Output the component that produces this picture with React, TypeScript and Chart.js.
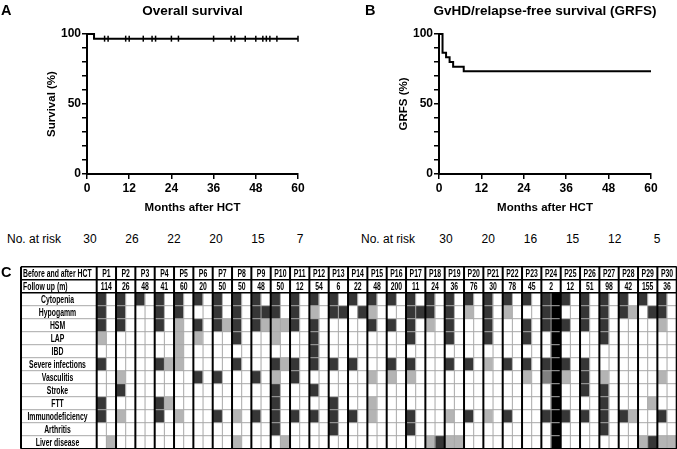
import React, { useEffect, useRef } from 'react';
import { Chart, registerables } from 'chart.js';

Chart.register(...registerables);

const SANS = '"Liberation Sans", Arial, sans-serif';

// ---------- Panels A and B (Kaplan-Meier) ----------
const monthTickStep = 12;
const percentLabels = [0, 50, 100];

const osTitle = 'Overall survival';
const osYTitle = 'Survival (%)';
const osMonths = [0, 2, 60];
const osPercent = [100, 96.67, 96.67];
const osCensored = [5, 6, 11, 12, 16, 18.5, 19.5, 24, 26, 36, 41, 42, 45, 48, 50, 51, 52, 54, 60];

const grfsTitle = 'GvHD/relapse-free survival (GRFS)';
const grfsYTitle = 'GRFS (%)';
const grfsMonths = [0, 1, 2, 3, 4, 7, 60];
const grfsPercent = [100, 86.67, 83.33, 80, 76.67, 73.33, 73.33];

const xTitle = 'Months after HCT';
const riskLabel = 'No. at risk';
const osAtRisk = [30, 26, 22, 20, 15, 7];
const grfsAtRisk = [30, 20, 16, 15, 12, 5];

// ---------- Panel C (heat map) ----------
const headerRows = ['Before and after HCT', 'Follow up (m)'];
const conditions = [
  'Cytopenia', 'Hypogamm', 'HSM', 'LAP', 'IBD', 'Severe infections',
  'Vasculitis', 'Stroke', 'FTT', 'Immunodeficiency', 'Arthritis', 'Liver disease',
];
const patients = [
  'P1', 'P2', 'P3', 'P4', 'P5', 'P6', 'P7', 'P8', 'P9', 'P10',
  'P11', 'P12', 'P13', 'P14', 'P15', 'P16', 'P17', 'P18', 'P19', 'P20',
  'P21', 'P22', 'P23', 'P24', 'P25', 'P26', 'P27', 'P28', 'P29', 'P30',
];
const followUp = [114, 26, 48, 41, 60, 20, 50, 50, 48, 50, 12, 54, 6, 22, 48, 200, 11, 24, 36, 76, 30, 78, 45, 2, 12, 51, 98, 42, 155, 36];
// status per condition (order of `conditions`): 0 none, 1 light, 2 dark, 3 black (death), 4 medium
const beforeHCT = [
  '222102002200', '222000120100', '200000000000', '222002002200', '221111000100',
  '202100200000', '222000200200', '222202000101', '222000200200', '221102122220',
  '222002200200', '212222020200', '220002002220', '200002000200', '212000101100',
  '202002100000', '222202100220', '221000000001', '222202000101', '210002000200',
  '222201000100', '210002000200', '202202100000', '222002400200', '202002100200',
  '222002220200', '222200122220', '220000000200', '200000000001', '221000100201',
];
const afterHCT = [
  '000000000001', '000000000000', '000000000000', '000001001000', '000000000000',
  '000000000000', '001000000000', '000000000000', '021000000000', '001001000001',
  '000000000000', '000000000000', '020000000000', '020000000000', '000000000000',
  '000000000000', '020000000000', '000000000002', '000000000001', '000000000000',
  '000000000000', '000000000000', '000000000000', '333333333333', '000000000000',
  '000000000000', '000000000000', '010000000100', '020000001002', '000000000001',
];
const statusColors: Record<string, string> = {
  '0': '#ffffff', '1': '#b4b4b4', '2': '#363636', '3': '#000000', '4': '#808080',
};

function stepValue(months: number[], values: number[], m: number) {
  let v = values[0];
  for (let i = 0; i < months.length; i++) if (months[i] <= m) v = values[i];
  return v;
}

function panelTitle(text: string) {
  return {
    id: 'panelTitle',
    afterDraw(chart: any) {
      const { ctx, chartArea } = chart;
      ctx.save();
      ctx.font = `bold 13.5px ${SANS}`;
      ctx.fillStyle = '#000';
      ctx.textAlign = 'center';
      ctx.textBaseline = 'middle';
      ctx.fillText(text, (chartArea.left + chartArea.right) / 2, 11);
      ctx.restore();
    },
  };
}

function kmConfig(o: {
  title: string; yTitle: string; months: number[]; percent: number[]; censored?: number[];
  yAxisWidth: number; yTitleCenter: number; rightPad: number;
}): any {
  const datasets: any[] = [
    {
      type: 'line',
      data: o.months.map((m, i) => ({ x: m, y: o.percent[i] })),
      stepped: true,
      borderColor: '#000',
      borderWidth: 2,
      pointRadius: 0,
      fill: false,
      clip: false,
    },
  ];
  if (o.censored) {
    datasets.push({
      type: 'scatter',
      data: o.censored.map((m) => ({ x: m, y: stepValue(o.months, o.percent, m) })),
      pointStyle: 'line',
      rotation: 90,
      pointRadius: 3,
      borderColor: '#000',
      borderWidth: 1.5,
      clip: false,
    });
  }
  const tickFont = { family: SANS, weight: 'bold', size: 12 };
  const titleFont = { family: SANS, weight: 'bold', size: 11.5, lineHeight: 1.2 };
  return {
    type: 'line',
    data: { datasets },
    options: {
      animation: false,
      responsive: false,
      maintainAspectRatio: false,
      layout: { padding: { left: 0, top: 34, right: o.rightPad, bottom: 0 } },
      plugins: { legend: { display: false }, tooltip: { enabled: false }, title: { display: false } },
      scales: {
        x: {
          type: 'linear', min: 0, max: 60,
          ticks: { stepSize: monthTickStep, font: tickFont, color: '#000', padding: 2, maxRotation: 0, autoSkip: false },
          grid: { display: true, drawOnChartArea: false, drawTicks: true, tickLength: 5, color: '#000', lineWidth: 1.5 },
          border: { display: true, color: '#000', width: 2 },
          title: { display: true, text: xTitle, font: titleFont, color: '#000', padding: 0 },
          afterFit: (s: any) => { s.height = 41; },
        },
        y: {
          type: 'linear', min: 0, max: 100,
          ticks: {
            stepSize: 10, autoSkip: false, font: tickFont, color: '#000', padding: 1,
            callback: (v: number) => (percentLabels.includes(v) ? String(v) : ''),
          },
          grid: { display: true, drawOnChartArea: false, drawTicks: true, tickLength: 5, color: '#000', lineWidth: 1.5 },
          border: { display: true, color: '#000', width: 2 },
          title: {
            display: true, text: o.yTitle, font: titleFont, color: '#000',
            padding: { top: o.yTitleCenter - 6.9, bottom: 0 },
          },
          afterFit: (s: any) => { s.width = o.yAxisWidth; },
        },
      },
    },
    plugins: [panelTitle(o.title)],
  };
}

function heatConfig(): any {
  const rowNames = [...headerRows, ...conditions];
  const labels: string[] = [];
  patients.forEach((p) => { labels.push(`${p} before`); labels.push(`${p} after`); });
  const cellColor = (r: number, c: number) => {
    if (r < headerRows.length) return '#ffffff';
    const p = Math.floor(c / 2);
    const s = c % 2 === 0 ? beforeHCT[p] : afterHCT[p];
    return statusColors[s[r - headerRows.length]];
  };
  const datasets = rowNames.map((name, r) => ({
    label: name,
    data: labels.map(() => 1),
    backgroundColor: (ctx: any) => cellColor(r, ctx.dataIndex),
    borderWidth: 0,
    barPercentage: 1,
    categoryPercentage: 1,
  }));
  const axisWidth = 75.7;
  const squeeze = 0.66;
  const tableFont = `bold 10.4px ${SANS}`;

  // draw condensed text (the reference table uses a narrow face)
  const narrowText = (ctx: any, text: string, x: number, y: number, align: 'left' | 'center') => {
    ctx.save();
    ctx.translate(x, y);
    ctx.scale(squeeze, 1);
    ctx.textAlign = align;
    ctx.fillText(text, 0, 0);
    ctx.restore();
  };

  const tablePlugin = {
    id: 'tableLines',
    afterDatasetsDraw(chart: any) {
      const { ctx, chartArea: ca, scales } = chart;
      const x = scales.x;
      const y = scales.y;
      const colW = x.getPixelForValue(1) - x.getPixelForValue(0);
      const colX = (c: number) => x.getPixelForValue(0) - colW / 2 + c * colW;
      const rowY = (r: number) => y.getPixelForValue(r);
      const left = y.left;
      const nRows = rowNames.length;
      const nCols = labels.length;
      ctx.save();
      // thin grey lines
      ctx.strokeStyle = '#a8a8a8';
      ctx.lineWidth = 1;
      for (let r = headerRows.length + 1; r < nRows; r++) {
        ctx.beginPath(); ctx.moveTo(left, rowY(r)); ctx.lineTo(ca.right, rowY(r)); ctx.stroke();
      }
      for (let c = 1; c < nCols; c += 2) {
        ctx.beginPath(); ctx.moveTo(colX(c), rowY(headerRows.length)); ctx.lineTo(colX(c), rowY(nRows)); ctx.stroke();
      }
      // black lines
      ctx.strokeStyle = '#000';
      ctx.lineWidth = 1.5;
      for (let r = 0; r <= headerRows.length; r++) {
        ctx.beginPath(); ctx.moveTo(left, rowY(r)); ctx.lineTo(ca.right, rowY(r)); ctx.stroke();
      }
      ctx.beginPath(); ctx.moveTo(left, rowY(nRows)); ctx.lineTo(ca.right, rowY(nRows)); ctx.stroke();
      ctx.lineWidth = 2;
      ctx.beginPath(); ctx.moveTo(left, rowY(0)); ctx.lineTo(left, rowY(nRows)); ctx.stroke();
      for (let c = 0; c <= nCols; c += 2) {
        ctx.beginPath(); ctx.moveTo(colX(c), rowY(0)); ctx.lineTo(colX(c), rowY(nRows)); ctx.stroke();
      }
      // text
      ctx.fillStyle = '#000';
      ctx.font = tableFont;
      ctx.textBaseline = 'middle';
      rowNames.forEach((name, r) => {
        const cy = y.getPixelForValue(r + 0.5) + 0.5;
        if (r < headerRows.length) narrowText(ctx, name, left + 2, cy, 'left');
        else narrowText(ctx, name, left + 36.5, cy, 'center');
      });
      patients.forEach((p, i) => {
        const cx = (colX(2 * i) + colX(2 * i + 2)) / 2;
        narrowText(ctx, p, cx, (rowY(0) + rowY(1)) / 2 + 0.5, 'center');
        narrowText(ctx, String(followUp[i]), cx, (rowY(1) + rowY(2)) / 2 + 0.5, 'center');
      });
      ctx.restore();
    },
  };

  return {
    type: 'bar',
    data: { labels, datasets },
    options: {
      animation: false,
      responsive: false,
      maintainAspectRatio: false,
      layout: { padding: { left: 21, top: 4.7, right: 0.3, bottom: 0.3 } },
      plugins: { legend: { display: false }, tooltip: { enabled: false } },
      scales: {
        x: { type: 'category', stacked: true, display: false, offset: true },
        y: {
          type: 'linear', stacked: true, reverse: true, min: 0, max: rowNames.length,
          ticks: { display: false },
          grid: { display: false, drawTicks: false },
          border: { display: false },
          afterFit: (s: any) => { s.width = axisWidth; },
        },
      },
    },
    plugins: [tablePlugin],
  };
}

function ChartCanvas(props: { left: number; top: number; width: number; height: number; make: () => any }) {
  const ref = useRef<HTMLCanvasElement>(null);
  useEffect(() => {
    const chart = new Chart(ref.current!, props.make());
    return () => chart.destroy();
  }, []);
  return (
    <canvas
      ref={ref}
      width={props.width}
      height={props.height}
      style={{ position: 'absolute', left: props.left, top: props.top, width: props.width, height: props.height }}
    />
  );
}

const letterStyle: React.CSSProperties = {
  position: 'absolute', fontFamily: SANS, fontWeight: 'bold', fontSize: 14.5, lineHeight: '16px', color: '#000',
};
const riskStyle: React.CSSProperties = {
  position: 'absolute', fontFamily: SANS, fontSize: 12, lineHeight: '14px', color: '#000', whiteSpace: 'nowrap',
};

function RiskRow(props: { labelLeft: number; start: number; step: number; values: number[] }) {
  const top = 232;
  return (
    <>
      <div style={{ ...riskStyle, left: props.labelLeft, top }}>{riskLabel}</div>
      {props.values.map((v, i) => (
        <div
          key={i}
          style={{ ...riskStyle, left: props.start + props.step * i - 20, top, width: 40, textAlign: 'center' }}
        >
          {v}
        </div>
      ))}
    </>
  );
}

export default function App() {
  return (
    <div style={{ position: 'absolute', left: 0, top: 0, width: 677, height: 449, background: '#fff', overflow: 'hidden' }}>
      <ChartCanvas
        left={0} top={0} width={338} height={215}
        make={() => kmConfig({
          title: osTitle, yTitle: osYTitle, months: osMonths, percent: osPercent, censored: osCensored,
          yAxisWidth: 87, yTitleCenter: 52, rightPad: 40,
        })}
      />
      <ChartCanvas
        left={338} top={0} width={339} height={215}
        make={() => kmConfig({
          title: grfsTitle, yTitle: grfsYTitle, months: grfsMonths, percent: grfsPercent,
          yAxisWidth: 101, yTitleCenter: 66, rightPad: 26,
        })}
      />
      <ChartCanvas left={0} top={262} width={677} height={187} make={heatConfig} />
      <div style={{ ...letterStyle, left: 1, top: 2 }}>A</div>
      <div style={{ ...letterStyle, left: 365, top: 2 }}>B</div>
      <div style={{ ...letterStyle, left: 1, top: 264 }}>C</div>
      <RiskRow labelLeft={7} start={90} step={42} values={osAtRisk} />
      <RiskRow labelLeft={361} start={446} step={42.2} values={grfsAtRisk} />
    </div>
  );
}
